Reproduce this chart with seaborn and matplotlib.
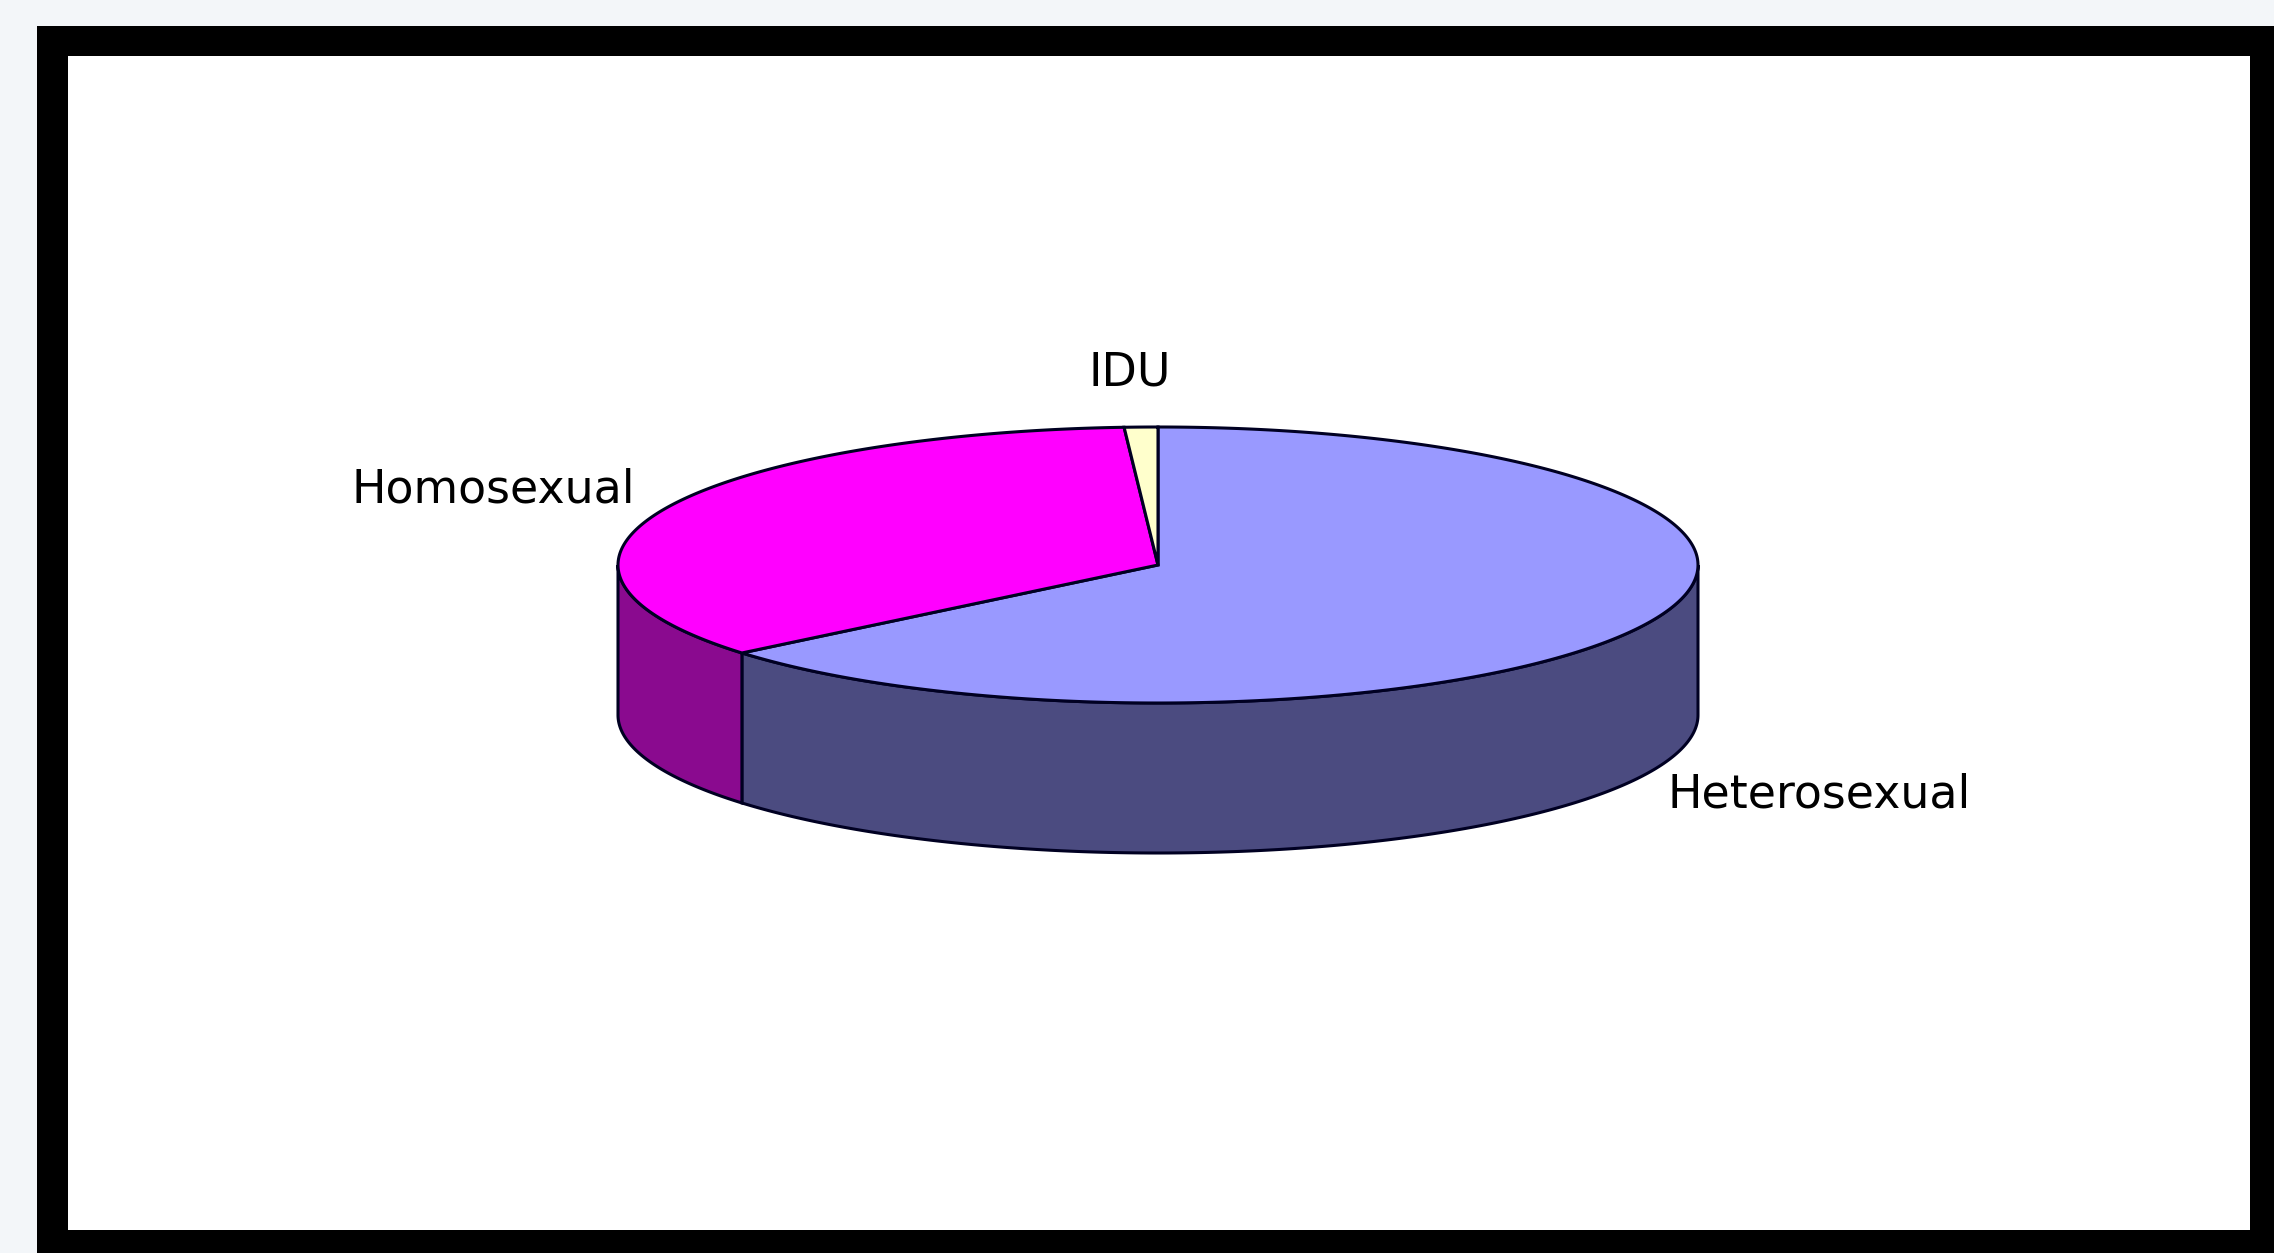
import numpy as np
import seaborn as sns
import matplotlib.pyplot as plt
from matplotlib.patches import Rectangle

# datos del grafico (porcentaje aproximado)
categorias = ["Heterosexual", "Homosexual", "IDU"]
valores = [64, 35, 1]
colores_top = ["#9999ff", "#ff00ff", "#ffffcc"]
colores_lado = ["#4b4b80", "#8a0a8f", "#b3b38f"]

sns.set_theme(style="white")
plt.rcParams["font.family"] = ["DejaVu Sans"]

W, H = 2274, 1253
fig = plt.figure(figsize=(W / 100, H / 100), dpi=100)
fig.patch.set_facecolor("#f3f6f9")
ax = fig.add_axes([0, 0, 1, 1])
ax.set_xlim(0, W)
ax.set_ylim(H, 0)
ax.axis("off")

# marco negro y fondo blanco
ax.add_patch(Rectangle((37, 26), W, H, facecolor="black", edgecolor="none", zorder=0))
ax.add_patch(Rectangle((68, 56), 2250 - 68, 1230 - 56, facecolor="white", edgecolor="none", zorder=1))

# geometria de la tarta 3D
cx, cy, rx, ry, prof = 1158, 565, 540, 138, 150
borde = "#000022"


def punto(t, dz=0):
    t = np.radians(t)
    return cx + rx * np.cos(t), cy - ry * np.sin(t) + dz


total = sum(valores)
inicio = 90.0
rangos = []
for v in valores:
    fin = inicio - 360.0 * v / total
    rangos.append((fin, inicio))
    inicio = fin

# caras laterales (solo la mitad delantera)
for (a0, a1), col in zip(rangos, colores_lado):
    for lo, hi in [(-180, 0), (180, 360)]:
        s, e = max(a0, lo), min(a1, hi)
        if e <= s:
            continue
        t = np.linspace(s, e, 200)
        xs, ys = punto(t)
        xb, yb = punto(t[::-1], prof)
        ax.fill(np.concatenate([xs, xb]), np.concatenate([ys, yb]),
                facecolor=col, edgecolor=borde, linewidth=2.2, zorder=2)

# caras superiores
for (a0, a1), col in zip(rangos, colores_top):
    t = np.linspace(a0, a1, 300)
    xs, ys = punto(t)
    ax.fill(np.concatenate([[cx], xs, [cx]]), np.concatenate([[cy], ys, [cy]]),
            facecolor=col, edgecolor=borde, linewidth=2.2, zorder=3)

# etiquetas
ax.text(351, 490, categorias[1], fontsize=33, ha="left", va="center", color="black", zorder=4)
ax.text(1668, 795, categorias[0], fontsize=33, ha="left", va="center", color="black", zorder=4)
ax.text(1130, 373, categorias[2], fontsize=33, ha="center", va="center", color="black", zorder=4)

fig.savefig("out.png", dpi=100, facecolor=fig.get_facecolor())
